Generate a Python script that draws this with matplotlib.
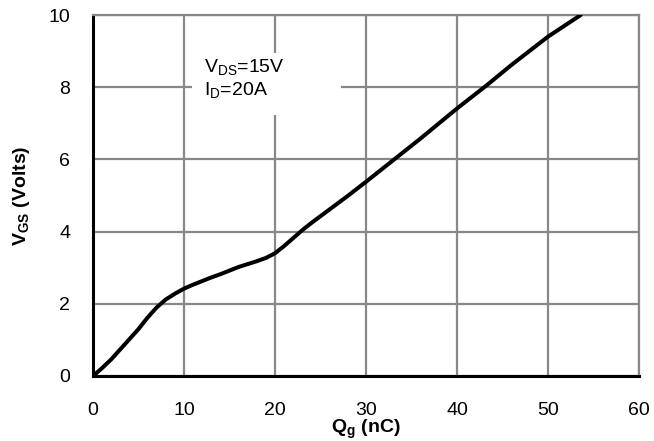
import matplotlib
matplotlib.use("Agg")
import matplotlib.pyplot as plt
from matplotlib.patches import Rectangle

plt.rcParams['font.family'] = ['Liberation Sans', 'DejaVu Sans']
plt.rcParams['mathtext.fontset'] = 'custom'
plt.rcParams['mathtext.rm'] = 'Liberation Sans'
plt.rcParams['mathtext.it'] = 'Liberation Sans'
plt.rcParams['mathtext.bf'] = 'Liberation Sans:bold'

# Gate charge curve
qg = [0, 1, 2, 3, 4, 5, 6, 7, 8, 9, 10, 11, 12, 13, 14, 15, 16, 17, 18, 19, 20, 21, 22, 23, 24, 26.4, 28, 30, 33, 36, 40, 43.3, 46, 50, 53.6]
vgs = [0, 0.22, 0.46, 0.74, 1.02, 1.30, 1.62, 1.90, 2.12, 2.28, 2.42, 2.53, 2.63, 2.73, 2.82, 2.92, 3.02, 3.10, 3.18, 3.27, 3.40, 3.60, 3.82, 4.04, 4.24, 4.69, 4.99, 5.38, 5.98, 6.58, 7.41, 8.06, 8.62, 9.40, 10.0]

xticks = [0, 10, 20, 30, 40, 50, 60]
yticks = [0, 2, 4, 6, 8, 10]

FS = 14

fig = plt.figure(figsize=(6.54, 4.41), dpi=100)
ax = fig.add_axes([93/654, 1 - 376/441, (639 - 93)/654, (376 - 15)/441])

ax.set_xlim(0, 60)
ax.set_ylim(0, 10)
ax.set_xticks(xticks)
ax.set_yticks(yticks)
ax.grid(True, color='#888888', linewidth=1.6, zorder=0)
ax.set_axisbelow(True)

ax.add_patch(Rectangle((10.9, 7.23), 16.4, 1.72, facecolor='white', edgecolor='none', zorder=1))
ax.text(12.2, 8.55, r'V$_{\mathrm{DS}}$=15V', fontsize=FS, va='center', ha='left', zorder=2)
ax.text(12.2, 7.92, r'I$_{\mathrm{D}}$=20A', fontsize=FS, va='center', ha='left', zorder=2)

ax.plot(qg, vgs, color='black', linewidth=2.9, zorder=3, solid_capstyle='round')

for s in ['top', 'right']:
    ax.spines[s].set_color('#888888')
    ax.spines[s].set_linewidth(1.6)
for s in ['left', 'bottom']:
    ax.spines[s].set_color('black')
    ax.spines[s].set_linewidth(2.2)

ax.tick_params(length=0, labelsize=FS)
ax.tick_params(axis='y', pad=16.5)
ax.tick_params(axis='x', pad=19)

ax.set_xlabel(r'$\mathbf{Q_g}$ (nC)', fontsize=FS, fontweight='bold', labelpad=-1)
ax.set_ylabel(r'$\mathbf{V_{GS}}$ (Volts)', fontsize=FS, fontweight='bold', labelpad=12)

fig.savefig('out.png', dpi=100)
